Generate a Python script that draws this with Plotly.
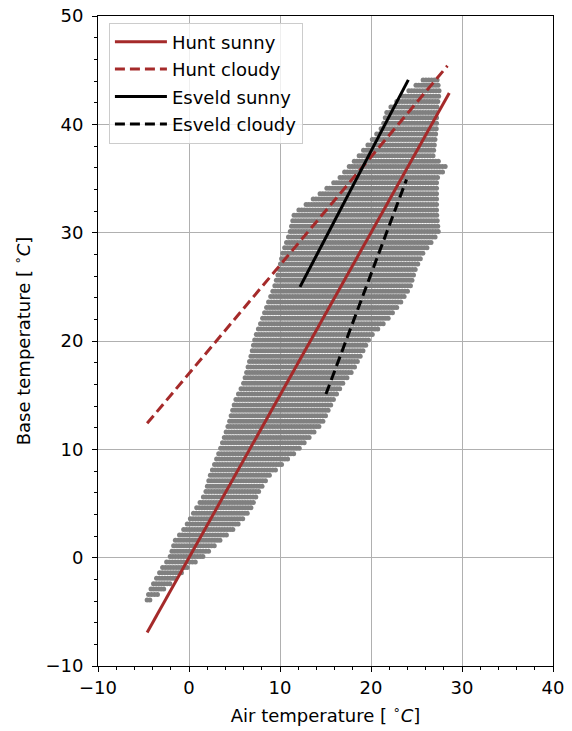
import numpy as np
import plotly.graph_objects as go

# ---- Data ----
# Envelope of the measured point cloud: for each base-temperature level,
# the leftmost and rightmost air temperature of the points in that row.
cloud_y = [-3.9, -3.5, -2.4, -0.9, 0.0, 1.6, 2.8, 4.4, 5.9, 7.5, 9.9, 12.4, 14.5,
           16.1, 17.3, 18.9, 20.4, 21.9, 23.5, 25.0, 26.5, 28.1, 30.0, 31.8, 33.0,
           35.0, 36.0, 37.0, 39.8, 41.3, 43.0, 44.4]
cloud_left = [-4.6, -4.5, -3.9, -2.9, -2.1, -1.5, -0.4, 0.7, 1.8, 2.3, 3.4, 4.4, 5.1,
              6.0, 6.4, 6.9, 7.3, 8.0, 8.7, 9.4, 9.9, 10.3, 11.1, 11.6, 13.5,
              16.5, 17.5, 18.6, 21.3, 21.8, 24.0, 26.2]
cloud_right = [-4.3, -3.6, -2.1, -0.2, 1.4, 3.4, 5.1, 6.7, 7.5, 8.7, 11.9, 14.6, 15.8,
               16.9, 18.0, 19.0, 19.9, 21.7, 23.2, 24.3, 24.8, 25.7, 27.4, 27.2, 27.2,
               27.2, 28.3, 26.8, 27.2, 27.2, 27.5, 27.2]

# Model lines (end points)
hunt_sunny_x = [-4.6, 28.6]
hunt_sunny_y = [-6.9, 42.9]
hunt_cloudy_x = [-4.6, 28.4]
hunt_cloudy_y = [12.4, 45.4]
esveld_sunny_x = [12.2, 24.1]
esveld_sunny_y = [25.0, 44.1]
esveld_cloudy_x = [15.05, 23.9]
esveld_cloudy_y = [15.1, 34.9]

x_ticks = [-10, 0, 10, 20, 30, 40]
y_ticks = [-10, 0, 10, 20, 30, 40, 50]

# ---- Build the point rows from the envelope ----
px, py = [], []
for yy in np.arange(cloud_y[0], cloud_y[-1] + 0.01, 0.5):
    lo = np.interp(yy, cloud_y, cloud_left)
    hi = np.interp(yy, cloud_y, cloud_right)
    n = max(1, int(round((hi - lo) / 0.3)) + 1)
    xs = np.linspace(lo, hi, n)
    px.extend(xs.tolist())
    py.extend([yy] * n)

RED = "#a52a2a"
FONT = "DejaVu Sans"
FS = 18

fig = go.Figure()
fig.add_trace(go.Scatter(x=px, y=py, mode="markers", showlegend=False,
                         marker=dict(size=5, color="#808080", line=dict(width=0)),
                         hoverinfo="skip"))

fig.add_trace(go.Scatter(x=hunt_sunny_x, y=hunt_sunny_y, mode="lines", name="Hunt sunny",
                         legendgroup="a", line=dict(color=RED, width=3)))
fig.add_trace(go.Scatter(x=hunt_cloudy_x, y=hunt_cloudy_y, mode="lines", name="Hunt cloudy",
                         legendgroup="b", line=dict(color=RED, width=3, dash="10px,5px")))
fig.add_trace(go.Scatter(x=esveld_sunny_x, y=esveld_sunny_y, mode="lines", name="Esveld sunny",
                         legendgroup="c", line=dict(color="black", width=3)))
fig.add_trace(go.Scatter(x=esveld_cloudy_x, y=esveld_cloudy_y, mode="lines", name="Esveld cloudy",
                         legendgroup="d", line=dict(color="black", width=3, dash="10px,5px")))

axis_common = dict(
    showline=True, linecolor="black", linewidth=1, mirror=True,
    showgrid=True, gridcolor="#b0b0b0", gridwidth=0.8,
    ticks="outside", ticklen=5, tickwidth=1, tickcolor="black",
    minor=dict(dtick=2, ticks="outside", ticklen=3, tickwidth=1, tickcolor="black", showgrid=False),
    zeroline=False, automargin=False, ticklabeloverflow="allow",
    tickfont=dict(family=FONT, size=FS, color="black"),
)

fig.update_xaxes(range=[-10, 40], tickvals=x_ticks, ticktext=[str(v).replace("-", "−") for v in x_ticks],
                 title=dict(text="Air temperature [ <sup>∘</sup><i>C</i>]",
                            font=dict(family=FONT, size=FS, color="black"), standoff=12),
                 **axis_common)
fig.update_yaxes(range=[-10, 50], tickvals=y_ticks, ticktext=[str(v).replace("-", "−") for v in y_ticks],
                 ticklabelstandoff=5,
                 title=dict(text="Base temperature [ <sup>∘</sup><i>C</i>]",
                            font=dict(family=FONT, size=FS, color="black"), standoff=10),
                 **axis_common)

# The page body adds an 8 px margin, so the figure is 8 px smaller than the window.
fig.update_layout(
    width=564, height=723,
    margin=dict(l=90, r=19, t=8, b=65),
    plot_bgcolor="white", paper_bgcolor="white",
    font=dict(family=FONT, size=FS, color="black"),
    legend=dict(x=0.024, y=0.99, xanchor="left", yanchor="top",
                bgcolor="rgba(255,255,255,0.8)", bordercolor="#cccccc", borderwidth=1,
                font=dict(family=FONT, size=FS, color="black"),
                itemwidth=52, tracegroupgap=1),
)

fig.write_html("out.html")
